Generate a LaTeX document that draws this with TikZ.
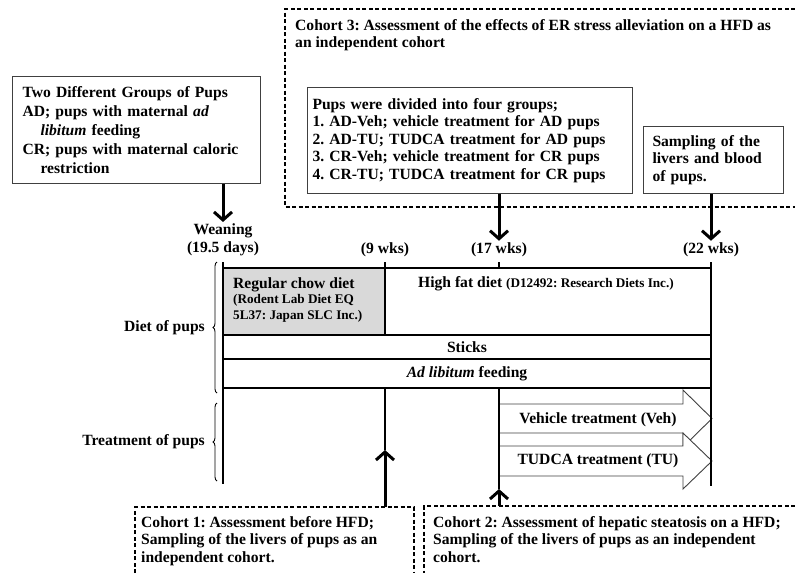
\documentclass[tikz,border=0pt]{standalone}
\usepackage{fontspec}
\setmainfont{Liberation Serif}
\usetikzlibrary{calc,arrows.meta,decorations.pathreplacing}
\frenchspacing

\tikzset{
  txt/.style={font=\bfseries\fontsize{15.6}{17.5}\selectfont, inner sep=0pt},
  smalltxt/.style={font=\bfseries\fontsize{13.2}{16.5}\selectfont, inner sep=0pt},
  infobox/.style={draw=black!75, line width=1pt, txt, align=left, anchor=north west},
  dashbox/.style={line width=1.3pt, dash pattern=on 4pt off 2.5pt},
  bigarrow/.style={line width=3pt, -{Straight Barb[length=8pt,width=18pt]}},
  timeline/.style={line width=1.8pt},
  rowline/.style={line width=1.1pt},
  treatarrow/.style={draw=black!75, fill=white, line width=0.9pt},
  pupbrace/.style={decorate, decoration={brace, amplitude=4pt, aspect=0.5}, line width=0.9pt},
}

\begin{document}
\begin{tikzpicture}[x=1pt,y=-1pt]
    \useasboundingbox (0,0) rectangle (795,573);

    % Groups of pups
    \node[infobox, minimum width=248pt, minimum height=107pt, text width=228pt,
          font=\bfseries\fontsize{15.6}{19}\selectfont] (groups) at (12,76)
        {Two Different Groups of Pups\\
         AD; pups with maternal \textit{ad}\\
         \hspace*{18pt}\textit{libitum} feeding\\
         CR; pups with maternal caloric\\
         \hspace*{18pt}restriction};

    % Cohort 3
    \draw[dashbox] (795,9) -- (285,9) -- (285,207) -- (795,207);
    \node[txt, anchor=north west, align=left] (cohort3) at (295,19)
        {Cohort 3: Assessment of the effects of ER stress alleviation on a HFD as\\
         an independent cohort};
    \node[infobox, minimum width=325pt, minimum height=106pt, text width=315pt] (groups4) at (307,87)
        {Pups were divided into four groups;\\
         1. AD-Veh; vehicle treatment for AD pups\\
         2. AD-TU; TUDCA treatment for AD pups\\
         3. CR-Veh; vehicle treatment for CR pups\\
         4. CR-TU; TUDCA treatment for CR pups};
    \node[infobox, minimum width=140pt, minimum height=67pt, text width=122pt] (sampling) at (643,126)
        {Sampling of the\\livers and blood\\of pups.};

    % Time points
    \node[txt, align=center, inner sep=2pt] (weaning) at (223,240) {Weaning\\(19.5 days)};
    \node[txt, inner sep=2pt] (wk9) at (385,250) {(9 wks)};
    \node[txt, inner sep=2pt] (wk17) at (499,250) {(17 wks)};
    \node[txt, inner sep=2pt] (wk22) at (711,250) {(22 wks)};

    \draw[bigarrow] (groups.south -| weaning) -- (weaning.north);
    \draw[bigarrow] (groups4.south -| wk17) -- (wk17.north);
    \draw[bigarrow] (sampling.south -| wk22) -- (wk22.north);

    % Diet rows
    \fill[gray!30] (223,268) rectangle (385,335);
    \draw[rowline] (223,268) -- (711,268);
    \draw[rowline] (223,335) -- (711,335);
    \draw[rowline] (223,359) -- (711,359);
    \draw[rowline] (223,388) -- (711,388);

    \node[txt, anchor=west] (chow) at (233,285) {Regular chow diet};
    \node[smalltxt, anchor=north west, align=left] (chowsrc) at (233,294)
        {(Rodent Lab Diet EQ\\5L37: Japan SLC Inc.)};
    \node[txt] (hfd) at (546,284) {High fat diet \fontsize{13.2}{15}\selectfont(D12492: Research Diets Inc.)};
    \node[txt] (sticks) at (467,347) {Sticks};
    \node[txt] (adlib) at (467,374) {\textit{Ad libitum} feeding};

    % Treatment arrows
    \draw[treatarrow] (499,404) -- (683,404) -- (683,390) -- (712,418.5) -- (683,447) -- (683,433) -- (499,433) -- cycle;
    \draw[treatarrow] (499,446) -- (683,446) -- (683,433) -- (712,461) -- (683,489) -- (683,476) -- (499,476) -- cycle;
    \node[txt] (veh) at (598,420) {Vehicle treatment (Veh)};
    \node[txt] (tudca) at (598,461) {TUDCA treatment (TU)};

    % Time lines
    \coordinate (wk9end) at (385,450);
    \coordinate (wk17end) at (499,489);
    \draw[timeline] (223,262) -- (223,484);
    \draw[timeline] (711,262) -- (711,486);
    \draw[timeline] (385,262) -- (385,335);
    \draw[timeline] (385,388) -- (wk9end);
    \draw[timeline] (499,262) -- (499,268);
    \draw[timeline] (499,388) -- (wk17end);

    % Braces
    \draw[pupbrace] (217,393) -- (217,262);
    \draw[pupbrace] (217,481) -- (217,403);
    \node[txt, anchor=east] (diet) at (205,328) {Diet of pups};
    \node[txt, anchor=east] (treat) at (205,442) {Treatment of pups};

    % Cohorts 1 and 2
    \coordinate (c1top) at (385,507);
    \coordinate (c2top) at (499,506);
    \draw[dashbox] (135,573) -- (135,507) -- (414,507) -- (414,573);
    \draw[dashbox] (795,506) -- (424,506) -- (424,573);
    \node[txt, anchor=north west, align=left] (cohort1) at (141,516)
        {Cohort 1: Assessment before HFD;\\
         Sampling of the livers of pups as an\\
         independent cohort.};
    \node[txt, anchor=north west, align=left] (cohort2) at (433,516)
        {Cohort 2: Assessment of hepatic steatosis on a HFD;\\
         Sampling of the livers of pups as an independent\\
         cohort.};
    \draw[bigarrow] (c1top) -- (wk9end);
    \draw[bigarrow] (c2top) -- (wk17end);
\end{tikzpicture}
\end{document}
